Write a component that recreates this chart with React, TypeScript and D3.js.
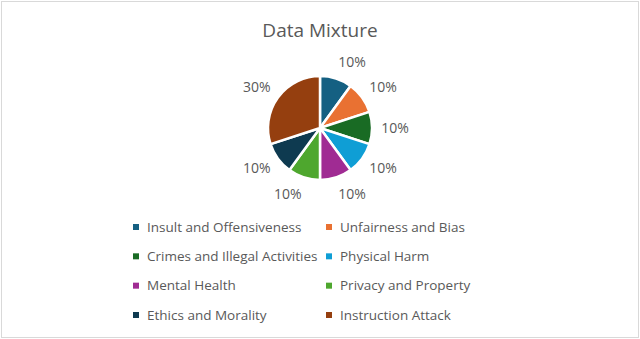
import { useEffect, useRef } from 'react'
import * as d3 from 'd3'

const W = 640
const H = 339

const categories = [
  'Insult and Offensiveness',
  'Unfairness and Bias',
  'Crimes and Illegal Activities',
  'Physical Harm',
  'Mental Health',
  'Privacy and Property',
  'Ethics and Morality',
  'Instruction Attack',
]
const shares = [10, 10, 10, 10, 10, 10, 10, 30]
const colors = ['#156082', '#E97132', '#196B24', '#0F9ED5', '#A02B93', '#4EA72E', '#0E3A50', '#953F0F']

const FONT = '"Open Sans", "Noto Sans", sans-serif'
const GREY = '#595959'

export default function App() {
  const svgRef = useRef<SVGSVGElement>(null)

  useEffect(() => {
    const el = svgRef.current
    if (!el) return
    d3.select(el).selectAll('*').remove()
    const svg = d3.select(el).attr('width', W).attr('height', H)

    svg.append('rect')
      .attr('x', 1.5).attr('y', 1.5)
      .attr('width', W - 3).attr('height', H - 3)
      .attr('fill', '#fff')
      .attr('stroke', '#d9d9d9')

    svg.append('text')
      .attr('x', W / 2).attr('y', 37)
      .attr('text-anchor', 'middle')
      .attr('fill', GREY)
      .attr('font-family', FONT)
      .attr('font-size', '19px')
      .text('Data Mixture')

    const cx = 320
    const cy = 128
    const r = 52
    const pie = d3.pie<number>().sort(null).value(d => d)
    const arcs = pie(shares)
    const arc = d3.arc<d3.PieArcDatum<number>>().innerRadius(0).outerRadius(r)

    const g = svg.append('g').attr('transform', `translate(${cx},${cy})`)
    g.selectAll('path')
      .data(arcs)
      .join('path')
      .attr('d', arc)
      .attr('fill', (_, i) => colors[i])
      .attr('stroke', '#fff')
      .attr('stroke-width', 2.5)
      .attr('stroke-linejoin', 'round')

    // data labels, outside end
    const total = d3.sum(shares)
    const R = 62
    const halfW = 13
    const halfH = 7
    g.selectAll('text.lbl')
      .data(arcs)
      .join('text')
      .attr('class', 'lbl')
      .attr('x', d => {
        const a = (d.startAngle + d.endAngle) / 2
        const x = Math.sin(a) * R
        return x + Math.sign(x) * halfW
      })
      .attr('y', d => {
        const a = (d.startAngle + d.endAngle) / 2
        return -Math.cos(a) * R - Math.cos(a) * halfH
      })
      .attr('dy', '0.35em')
      .attr('text-anchor', 'middle')
      .attr('fill', GREY)
      .attr('font-family', FONT)
      .attr('font-size', '14px')
      .text(d => `${Math.round((d.data / total) * 100)}%`)

    // legend
    const colX = d3.scalePoint<number>().domain([0, 1]).range([136, 329])
    const rowY = d3.scalePoint<number>().domain([0, 1, 2, 3]).range([227, 315])
    const leg = svg.append('g')
    categories.forEach((c, i) => {
      const x = colX(i % 2) as number
      const y = rowY(Math.floor(i / 2)) as number
      leg.append('rect')
        .attr('x', x - 3).attr('y', y - 3)
        .attr('width', 6).attr('height', 6)
        .attr('fill', colors[i])
      leg.append('text')
        .attr('x', x + 11).attr('y', y)
        .attr('dy', '0.35em')
        .attr('fill', GREY)
        .attr('font-family', FONT)
        .attr('font-size', '13.5px')
        .text(c)
    })
  }, [])

  return <svg ref={svgRef} style={{ position: 'fixed', left: 0, top: 0, display: 'block' }} />
}
